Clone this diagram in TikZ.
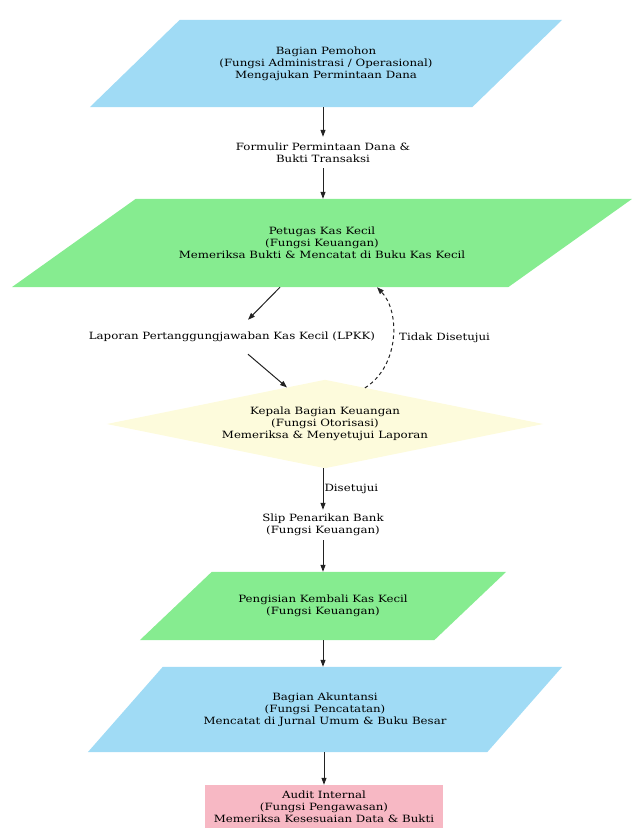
\documentclass[tikz,border=0pt]{standalone}
\usepackage{fontspec}
\setmainfont{DejaVu Serif}[FakeStretch=1.18]
\usetikzlibrary{arrows.meta,calc,backgrounds}
\definecolor{pblue}{HTML}{A0DBF5}
\definecolor{pgreen}{HTML}{86EC90}
\definecolor{ppink}{HTML}{F7B8C4}
\definecolor{pyellow}{HTML}{FDFBDC}
\definecolor{edgecol}{HTML}{222222}
\tikzset{
  shp/.style={inner sep=0pt, align=center, text=black},
  lbl/.style={inner sep=0pt, align=center, text=black},
  arr/.style={draw=edgecol, line width=1pt, -{Triangle[length=7pt,width=5pt]}},
  dasharr/.style={arr, dash pattern=on 3.5pt off 3pt}
}
\begin{document}
\begin{tikzpicture}[x=1pt,y=-1pt,font=\fontsize{10}{12}\selectfont]
\useasboundingbox (0,0) rectangle (634,836);
% nodes
\node[shp, minimum width=472pt, minimum height=87pt] (req) at (326,63.5)
  {Bagian Pemohon\\(Fungsi Administrasi / Operasional)\\Mengajukan Permintaan Dana};
\node[lbl, minimum height=31pt] (form) at (323,152.5)
  {Formulir Permintaan Dana \&\\Bukti Transaksi};
\node[shp, minimum width=620pt, minimum height=88pt] (kas) at (322,243)
  {Petugas Kas Kecil\\(Fungsi Keuangan)\\Memeriksa Bukti \& Mencatat di Buku Kas Kecil};
\node[lbl, minimum height=34pt] (lpkk) at (232,337)
  {Laporan Pertanggungjawaban Kas Kecil (LPKK)};
\node[shp, minimum width=436pt, minimum height=88pt] (kep) at (325,424)
  {Kepala Bagian Keuangan\\(Fungsi Otorisasi)\\Memeriksa \& Menyetujui Laporan};
\node[lbl, minimum height=30pt] (slip) at (323,525)
  {Slip Penarikan Bank\\(Fungsi Keuangan)};
\node[shp, minimum width=366pt, minimum height=68pt] (isi) at (323,606)
  {Pengisian Kembali Kas Kecil\\(Fungsi Keuangan)};
\node[shp, minimum width=474pt, minimum height=85pt] (akt) at (325,709.5)
  {Bagian Akuntansi\\(Fungsi Pencatatan)\\Mencatat di Jurnal Umum \& Buku Besar};
\node[shp, fill=ppink, minimum width=238pt, minimum height=43pt] (aud) at (324,806.5)
  {Audit Internal\\(Fungsi Pengawasan)\\Memeriksa Kesesuaian Data \& Bukti};
% shapes
\begin{scope}[on background layer]
  \fill[pblue] ($(req.north west)+(90,0)$) -- (req.north east) -- ($(req.south east)-(90,0)$) -- (req.south west) -- cycle;
  \fill[pgreen] ($(kas.north west)+(124,0)$) -- (kas.north east) -- ($(kas.south east)-(124,0)$) -- (kas.south west) -- cycle;
  \fill[pyellow] (kep.west) -- (kep.north) -- (kep.east) -- (kep.south) -- cycle;
  \fill[pgreen] ($(isi.north west)+(72,0)$) -- (isi.north east) -- ($(isi.south east)-(72,0)$) -- (isi.south west) -- cycle;
  \fill[pblue] ($(akt.north west)+(75,0)$) -- (akt.north east) -- ($(akt.south east)-(75,0)$) -- (akt.south west) -- cycle;
\end{scope}
% connectors
\draw[arr] (form.north |- req.south) -- (form.north);
\draw[arr] (form.south) -- (form.south |- kas.north);
\draw[arr] ($(kas.south)+(-42,0)$) -- ($(lpkk.north)+(16,0)$);
\draw[arr] ($(lpkk.south)+(16,0)$) -- ($(kep.north)!0.174!(kep.west)$);
\draw[dasharr] ($(kep.north)!0.183!(kep.east)$) .. controls +(35,-22) and +(23,24) .. ($(kas.south)+(55,0)$)
  node[pos=0.5, anchor=west, xshift=6pt, lbl] (tidak) {Tidak Disetujui};
\draw[arr] (slip.north |- kep.south) -- (slip.north)
  node[midway, anchor=west, xshift=1pt, lbl] (dis) {Disetujui};
\draw[arr] (slip.south) -- (slip.south |- isi.north);
\draw[arr] (isi.south) -- (isi.south |- akt.north);
\draw[arr] (aud.north |- akt.south) -- (aud.north);
\end{tikzpicture}
\end{document}
